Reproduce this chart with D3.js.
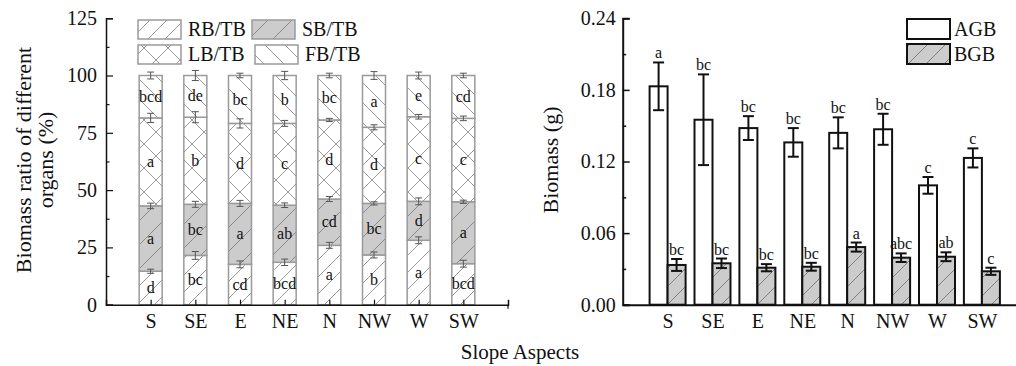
<!DOCTYPE html>
<html><head><meta charset="utf-8">
<script src="https://cdn.jsdelivr.net/npm/d3@7"></script>
<style>
body{margin:0;background:#fff;}
svg{display:block;font-family:"Liberation Serif","Times New Roman",Times,serif;}
</style></head><body>
<svg id="c" width="1016" height="366"></svg>
<script>
// ---------- data ----------
const categories = ["S","SE","E","NE","N","NW","W","SW"];
// Left: biomass ratio (%) of organs
const rbTB = [14.6,21.5,17.6,18.5,25.9,21.7,28.1,17.9];
const sbTB = [28.5,22.3,26.6,24.9,20.2,22.5,17.0,27.0];
const lbTB = [38.4,38.0,34.9,35.7,34.5,33.2,36.9,36.4];
const fbTB = [18.5,18.2,20.9,20.9,19.4,22.6,18.0,18.7];
const rbErr = [0.9,1.7,1.5,1.4,1.3,1.3,1.5,1.5];
const sbErr = [1.2,1.3,1.3,1.0,1.1,0.7,1.5,0.7];
const lbErr = [2.0,2.4,2.0,1.3,0.7,1.1,1.0,1.0];
const fbErr = [1.5,2.2,1.0,1.8,1.0,1.7,1.5,1.0];
const rbSig = ["d","bc","cd","bcd","a","b","a","bcd"];
const sbSig = ["a","bc","a","ab","cd","bc","d","a"];
const lbSig = ["a","b","d","c","d","d","c","c"];
const fbSig = ["bcd","de","bc","b","bc","a","e","cd"];
const leftTicks = [0,25,50,75,100,125];
// Right: biomass (g)
const agb = [0.183,0.155,0.148,0.136,0.144,0.147,0.100,0.123];
const agbErr = [0.020,0.038,0.010,0.012,0.013,0.013,0.007,0.008];
const bgb = [0.0333,0.0347,0.0310,0.0318,0.0483,0.0394,0.0402,0.0280];
const bgbErr = [0.005,0.004,0.003,0.0033,0.0038,0.0036,0.0037,0.003];
const agbSig = ["a","bc","bc","bc","bc","bc","c","c"];
const bgbSig = ["bc","bc","bc","bc","a","abc","ab","c"];
const rightTicks = [0,0.06,0.12,0.18,0.24];

const FONT = '"Liberation Serif","Times New Roman",Times,serif';
const svg = d3.select("#c");
const defs = svg.append("defs");
const GRAY = "#9a9a9a";

function hatch(id, size, dirs, bg, color, w){
  const p = defs.append("pattern").attr("id",id).attr("patternUnits","userSpaceOnUse")
    .attr("width",size).attr("height",size);
  p.append("rect").attr("width",size).attr("height",size).attr("fill",bg);
  dirs.forEach(d=>{
    if(d==="/"){
      p.append("path").attr("d",`M0,${size} L${size},0 M${-size/2},${size/2} L${size/2},${-size/2} M${size/2},${size*1.5} L${size*1.5},${size/2}`)
       .attr("stroke",color).attr("stroke-width",w);
    } else {
      p.append("path").attr("d",`M0,0 L${size},${size} M${-size/2},${size/2} L${size/2},${size*1.5} M${size/2},${-size/2} L${size*1.5},${size/2}`)
       .attr("stroke",color).attr("stroke-width",w);
    }
  });
}
hatch("pRB",17,["/"],"#fff",GRAY,1);
hatch("pSB",24,["/"],"#cccccc","#8a8a8a",1);
hatch("pLB",24,["/","\\"],"#fff",GRAY,1);
hatch("pFB",20,["\\"],"#fff",GRAY,1);
hatch("pBGB",18,["/"],"#cccccc","#808080",1);

// ---------- LEFT CHART ----------
const xL = d3.scaleLinear().domain([0,9]).range([106,508]);
const yL = d3.scaleLinear().domain([0,125]).range([304.7,18.2]);
const bwL = 23;
const series = [
  {key:"RB/TB", vals:rbTB, err:rbErr, sig:rbSig, fill:"url(#pRB)"},
  {key:"SB/TB", vals:sbTB, err:sbErr, sig:sbSig, fill:"url(#pSB)"},
  {key:"LB/TB", vals:lbTB, err:lbErr, sig:lbSig, fill:"url(#pLB)"},
  {key:"FB/TB", vals:fbTB, err:fbErr, sig:fbSig, fill:"url(#pFB)"}
];
const rows = categories.map((c,i)=>{const o={cat:c,i:i}; series.forEach(s=>o[s.key]=s.vals[i]); return o;});
const stack = d3.stack().keys(series.map(s=>s.key))(rows);

const gL = svg.append("g");
stack.forEach((layer,li)=>{
  const s = series[li];
  gL.selectAll(null).data(layer).enter().append("rect")
    .attr("x",d=>xL(d.data.i+1)-bwL/2).attr("width",bwL)
    .attr("y",d=>yL(d[1])).attr("height",d=>yL(d[0])-yL(d[1]))
    .attr("fill",s.fill).attr("stroke",GRAY).attr("stroke-width",1.5);
});
// error bars and labels
stack.forEach((layer,li)=>{
  const s = series[li];
  layer.forEach((d,i)=>{
    const cx = xL(i+1), top=d[1], e=s.err[i];
    const g = gL.append("g").attr("stroke","#555").attr("stroke-width",1);
    g.append("line").attr("x1",cx).attr("x2",cx).attr("y1",yL(top+e)).attr("y2",yL(top-e));
    g.append("line").attr("x1",cx-3.5).attr("x2",cx+3.5).attr("y1",yL(top+e)).attr("y2",yL(top+e));
    g.append("line").attr("x1",cx-3.5).attr("x2",cx+3.5).attr("y1",yL(top-e)).attr("y2",yL(top-e));
    gL.append("text").attr("x",cx).attr("y",yL((d[0]+d[1])/2)).attr("dy","0.32em")
      .attr("text-anchor","middle").attr("font-size",16).attr("fill","#111").text(s.sig[i]);
  });
});
// axes
const axL = gL.append("g").attr("transform",`translate(${xL(0)},0)`)
  .call(d3.axisLeft(yL).tickValues(leftTicks).tickSize(-7).tickPadding(9).tickFormat(d3.format("d")));
gL.append("g").attr("transform",`translate(${xL(0)},0)`)
  .call(d3.axisLeft(yL).tickValues(d3.range(12.5,125,25)).tickSize(-3.5).tickFormat(""))
  .call(g=>g.selectAll(".tick line").attr("stroke","#111").attr("stroke-width",1.2))
  .select(".domain").remove();
axL.selectAll("text").attr("font-size",20).attr("font-family",FONT).attr("fill","#111");
const axLx = gL.append("g").attr("transform",`translate(0,${yL(0)})`)
  .call(d3.axisBottom(xL).tickValues(d3.range(1,9)).tickSize(-5).tickPadding(9).tickFormat(d=>categories[d-1]));
axLx.selectAll("text").attr("font-size",20).attr("font-family",FONT).attr("fill","#111");
[axL,axLx].forEach(a=>{a.select(".domain").attr("stroke-width",1.5).attr("stroke","#111"); a.selectAll(".tick line").attr("stroke","#111").attr("stroke-width",1.2);});
gL.append("line").attr("x1",xL(9)).attr("x2",xL(9)).attr("y1",yL(0)).attr("y2",yL(0)+4).attr("stroke","#111").attr("stroke-width",1.2);

// left legend
const legL = [
  {k:"RB/TB",f:"url(#pRB)",x:138,y:20,tx:188},
  {k:"SB/TB",f:"url(#pSB)",x:252,y:20,tx:302},
  {k:"LB/TB",f:"url(#pLB)",x:138,y:45,tx:188},
  {k:"FB/TB",f:"url(#pFB)",x:255,y:45,tx:305}
];
legL.forEach(l=>{
  gL.append("rect").attr("x",l.x).attr("y",l.y).attr("width",43).attr("height",19)
    .attr("fill",l.f).attr("stroke",GRAY).attr("stroke-width",1.5);
  gL.append("text").attr("x",l.tx).attr("y",l.y+16).attr("font-size",20).attr("fill","#111").text(l.k);
});
// left title
const tl = gL.append("text").attr("transform","translate(0,160) rotate(-90)").attr("text-anchor","middle")
  .attr("font-size",22).attr("fill","#111");
tl.append("tspan").attr("x",0).attr("y",31).text("Biomass ratio of different");
tl.append("tspan").attr("x",0).attr("y",53).text("organs (%)");

// ---------- RIGHT CHART ----------
const x0R = 622.7, stepR = 44.9;
const xR = d3.scaleLinear().domain([0,(1016-x0R)/stepR]).range([x0R,1016]);
const yR = d3.scaleLinear().domain([0,0.24]).range([304.7,18.3]);
const bwR = 18;
const gR = svg.append("g");
function barsR(vals, errs, sigs, off, fill){
  vals.forEach((v,i)=>{
    const cx = xR(i+1)+off;
    gR.append("rect").attr("x",cx-bwR/2).attr("width",bwR).attr("y",yR(v)).attr("height",yR(0)-yR(v))
      .attr("fill",fill).attr("stroke","#111").attr("stroke-width",2);
  });
  vals.forEach((v,i)=>{
    const cx = xR(i+1)+off, e=errs[i];
    const g = gR.append("g").attr("stroke","#111").attr("stroke-width",2);
    g.append("line").attr("x1",cx).attr("x2",cx).attr("y1",yR(v+e)).attr("y2",yR(v-e));
    g.append("line").attr("x1",cx-5.5).attr("x2",cx+5.5).attr("y1",yR(v+e)).attr("y2",yR(v+e));
    g.append("line").attr("x1",cx-5.5).attr("x2",cx+5.5).attr("y1",yR(v-e)).attr("y2",yR(v-e));
    gR.append("text").attr("x",cx).attr("y",yR(v+e)-4).attr("text-anchor","middle")
      .attr("font-size",16).attr("fill","#111").text(sigs[i]);
  });
}
barsR(agb,agbErr,agbSig,-bwR/2,"#fff");
barsR(bgb,bgbErr,bgbSig,bwR/2,"url(#pBGB)");
const axR = gR.append("g").attr("transform",`translate(${x0R},0)`)
  .call(d3.axisLeft(yR).tickValues(rightTicks).tickSize(-7).tickPadding(7).tickFormat(d3.format(".2f")));
gR.append("g").attr("transform",`translate(${x0R},0)`)
  .call(d3.axisLeft(yR).tickValues(d3.range(0.03,0.24,0.06)).tickSize(-3.5).tickFormat(""))
  .call(g=>g.selectAll(".tick line").attr("stroke","#111").attr("stroke-width",1.5))
  .select(".domain").remove();
axR.selectAll("text").attr("font-size",20).attr("font-family",FONT).attr("fill","#111");
const axRx = gR.append("g").attr("transform",`translate(0,${yR(0)})`)
  .call(d3.axisBottom(xR).tickValues(d3.range(1,9)).tickSize(0).tickPadding(9).tickFormat(d=>categories[d-1]));
axRx.selectAll("text").attr("font-size",20).attr("font-family",FONT).attr("fill","#111");
[axR,axRx].forEach(a=>{a.select(".domain").attr("stroke-width",2).attr("stroke","#111"); a.selectAll(".tick line").attr("stroke","#111").attr("stroke-width",1.5);});
// right legend
[{k:"AGB",f:"#fff",y:19},{k:"BGB",f:"url(#pBGB)",y:44}].forEach(l=>{
  gR.append("rect").attr("x",907).attr("y",l.y).attr("width",43).attr("height",20)
    .attr("fill",l.f).attr("stroke","#111").attr("stroke-width",2);
  gR.append("text").attr("x",954).attr("y",l.y+17).attr("font-size",20).attr("fill","#111").text(l.k);
});
gR.append("text").attr("transform","translate(558,160) rotate(-90)").attr("text-anchor","middle")
  .attr("font-size",22).attr("fill","#111").text("Biomass (g)");

// shared x title
svg.append("text").attr("x",520).attr("y",359).attr("text-anchor","middle")
  .attr("font-size",21).attr("fill","#111").text("Slope Aspects");
</script>
</body></html>
